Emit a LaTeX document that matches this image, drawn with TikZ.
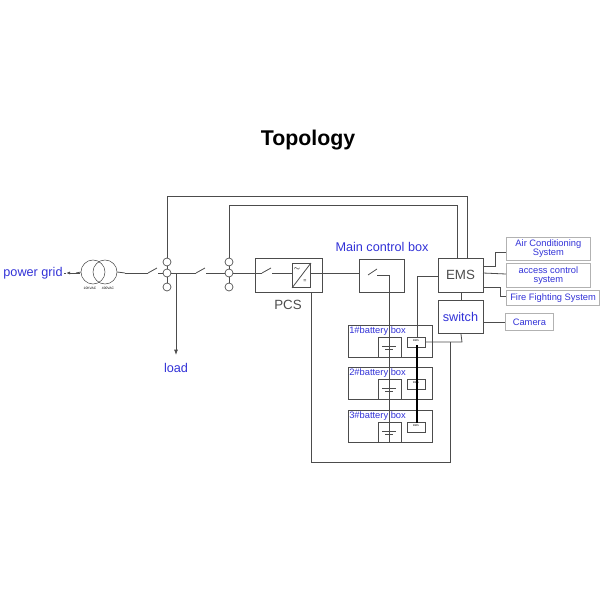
\documentclass[tikz,border=0pt]{standalone}
\usepackage{fontspec}
\setmainfont{Liberation Sans}
\usetikzlibrary{arrows.meta}
\definecolor{lblue}{RGB}{50,50,215}
\begin{document}
\begin{tikzpicture}[x=0.75pt,y=-0.75pt,
  w/.style={draw=black!70,line width=0.6pt},
  bx/.style={draw=black!70,line width=0.7pt,inner sep=0,anchor=north west},
  lb/.style={text=lblue,inner sep=1pt},
  sb/.style={draw=black!30,line width=0.6pt,text=lblue,align=center,font=\fontsize{7}{7}\selectfont,inner sep=1pt,anchor=north west},
  bus/.style={draw=black!70,fill=white,line width=0.5pt,circle,minimum size=6pt,inner sep=0}]
\useasboundingbox (0,0) rectangle (600,600);
\node[font=\bfseries\fontsize{16}{16}\selectfont] (title) at (308,140) {Topology};
% grid
\node[lb,font=\fontsize{9.5}{9.5}\selectfont] (pg) at (33,273) {power grid};
\coordinate (pge) at (66,273);
\draw[w,-{Latex[length=3pt]}] (80,273) -- (pge);
\draw[w] (pg.east) -- (pge);
\node[circle,draw=black!70,minimum size=18pt,inner sep=0] (t1) at (93,272) {};
\node[circle,draw=black!70,minimum size=18pt,inner sep=0] (t2) at (105,272) {};
\draw[w] (76,273) -- (t1.west) (t2.east) -- (125,273);
\node[font=\fontsize{2.5}{3}\selectfont] at (90,288) {10KVAC};
\node[font=\fontsize{2.5}{3}\selectfont] at (108,288) {400VAC};
\draw[w] (125,273) -- (148,273) (158,273) -- (196,273) (206,273) -- (262,273);
\draw[w] (148,273) -- (157,268) (196,273) -- (205,268);
% buses
\foreach \x/\t in {167/196,229/205}{
  \draw[w] (\x,262) -- (\x,\t);
  \draw[w] (\x,262) -- (\x,287);
  \node[bus] at (\x,262) {}; \node[bus] at (\x,273) {}; \node[bus] at (\x,287) {};
}
\coordinate (loadend) at (176,355);
\draw[w,-{Latex[length=4pt]}] (176,273) -- (loadend);
\node[lb,font=\fontsize{9.5}{9.5}\selectfont] (load) at (176,368) {load};
% PCS
\node[bx,minimum width=50.25pt,minimum height=25.5pt] (pcs) at (255,258) {};
\node[font=\fontsize{10}{10}\selectfont,text=black!70] (pcsl) at (288,305) {PCS};
\draw[w] (262,273) -- (271,268);
\draw[w] (272,273) -- (292,273) (310,273) -- (322,273);
\node[bx,minimum width=13.5pt,minimum height=18pt] (conv) at (292,263) {};
\draw[w] (conv.south west) -- (conv.north east);
\node[font=\fontsize{4}{4}\selectfont] at (297,269) {$\sim$};
\node[font=\fontsize{4}{4}\selectfont] at (305,281) {=};
% Main control box
\node[bx,minimum width=33.75pt,minimum height=24.75pt] (mcb) at (359,259) {};
\node[lb,font=\fontsize{9.5}{9.5}\selectfont] (mcbl) at (382,247) {Main control box};
\draw[w] (pcs.east |- 0,273) -- (mcb.west |- 0,273);
\draw[w] (368,275) -- (377,269);
\draw[w] (377,275) -- (389,275) -- (389,440);
% EMS & switch
\node[bx,minimum width=33.75pt,minimum height=25.5pt] (ems) at (438,258) {};
\node[font=\fontsize{10}{10}\selectfont,text=black!70] at (460.5,275) {EMS};
\node[bx,minimum width=33.75pt,minimum height=24.75pt] (sw) at (438,300) {};
\node[lb,font=\fontsize{9.5}{9.5}\selectfont] at (460.5,316.5) {switch};
\draw[w] (ems.south) -- (sw.north);
\draw[w] (167,196) -- (467,196) -- (467,258);
\draw[w] (229,205) -- (457,205) -- (457,258);
% battery boxes
\foreach \i/\y in {1/325,2/367,3/410}{
  \node[bx,minimum width=63pt,minimum height=24pt] (bb\i) at (348,\y) {};
  \node[lb,anchor=north west,font=\fontsize{7}{7}\selectfont,inner sep=0] at (349,\y+1) {\i\#battery box};
  \node[bx,minimum width=17pt,minimum height=15pt,fill=white] (bat\i) at (378,\y+12) {};
  \draw[w] (389,\y+12) -- (389,\y+32);
  \draw[w] (382,\y+21) -- (396,\y+21) (385,\y+24) -- (393,\y+24);
  \node[bx,minimum width=13.5pt,minimum height=7.5pt] (bms\i) at (407,\y+12) {};
  \node[font=\fontsize{2}{2}\selectfont] at (416,\y+15.75) {BMS};
}
\draw[line width=1.4pt,black] (417,345) -- (417,423);
\draw[w] (ems.west |- 0,276) -- (417,276) -- (417,337);
\draw[w] (425,342) -- (462,342) -- (sw.south);
\draw[w] (450,342) -- (450,462) -- (311,462) -- (311,292);
% right boxes
\node[sb,minimum width=63pt,minimum height=17pt] (ac) at (506,237) {Air Conditioning\\System};
\node[sb,minimum width=63pt,minimum height=18pt] (acc) at (506,263) {access control\\system};
\node[sb,minimum width=70pt,minimum height=11pt] (ff) at (506,290) {Fire Fighting System};
\node[sb,minimum width=36pt,minimum height=12.75pt] (cam) at (505,313) {Camera};
\draw[w] (483,266) -- (495,266) -- (495,252) -- (ac.west |- 0,252);
\draw[w] (483,273) -- (acc.west |- 0,274);
\draw[w] (483,287) -- (500,287) -- (500,296) -- (ff.west |- 0,296);
\draw[w] (483,322) -- (cam.west |- 0,322);
\end{tikzpicture}
\end{document}
